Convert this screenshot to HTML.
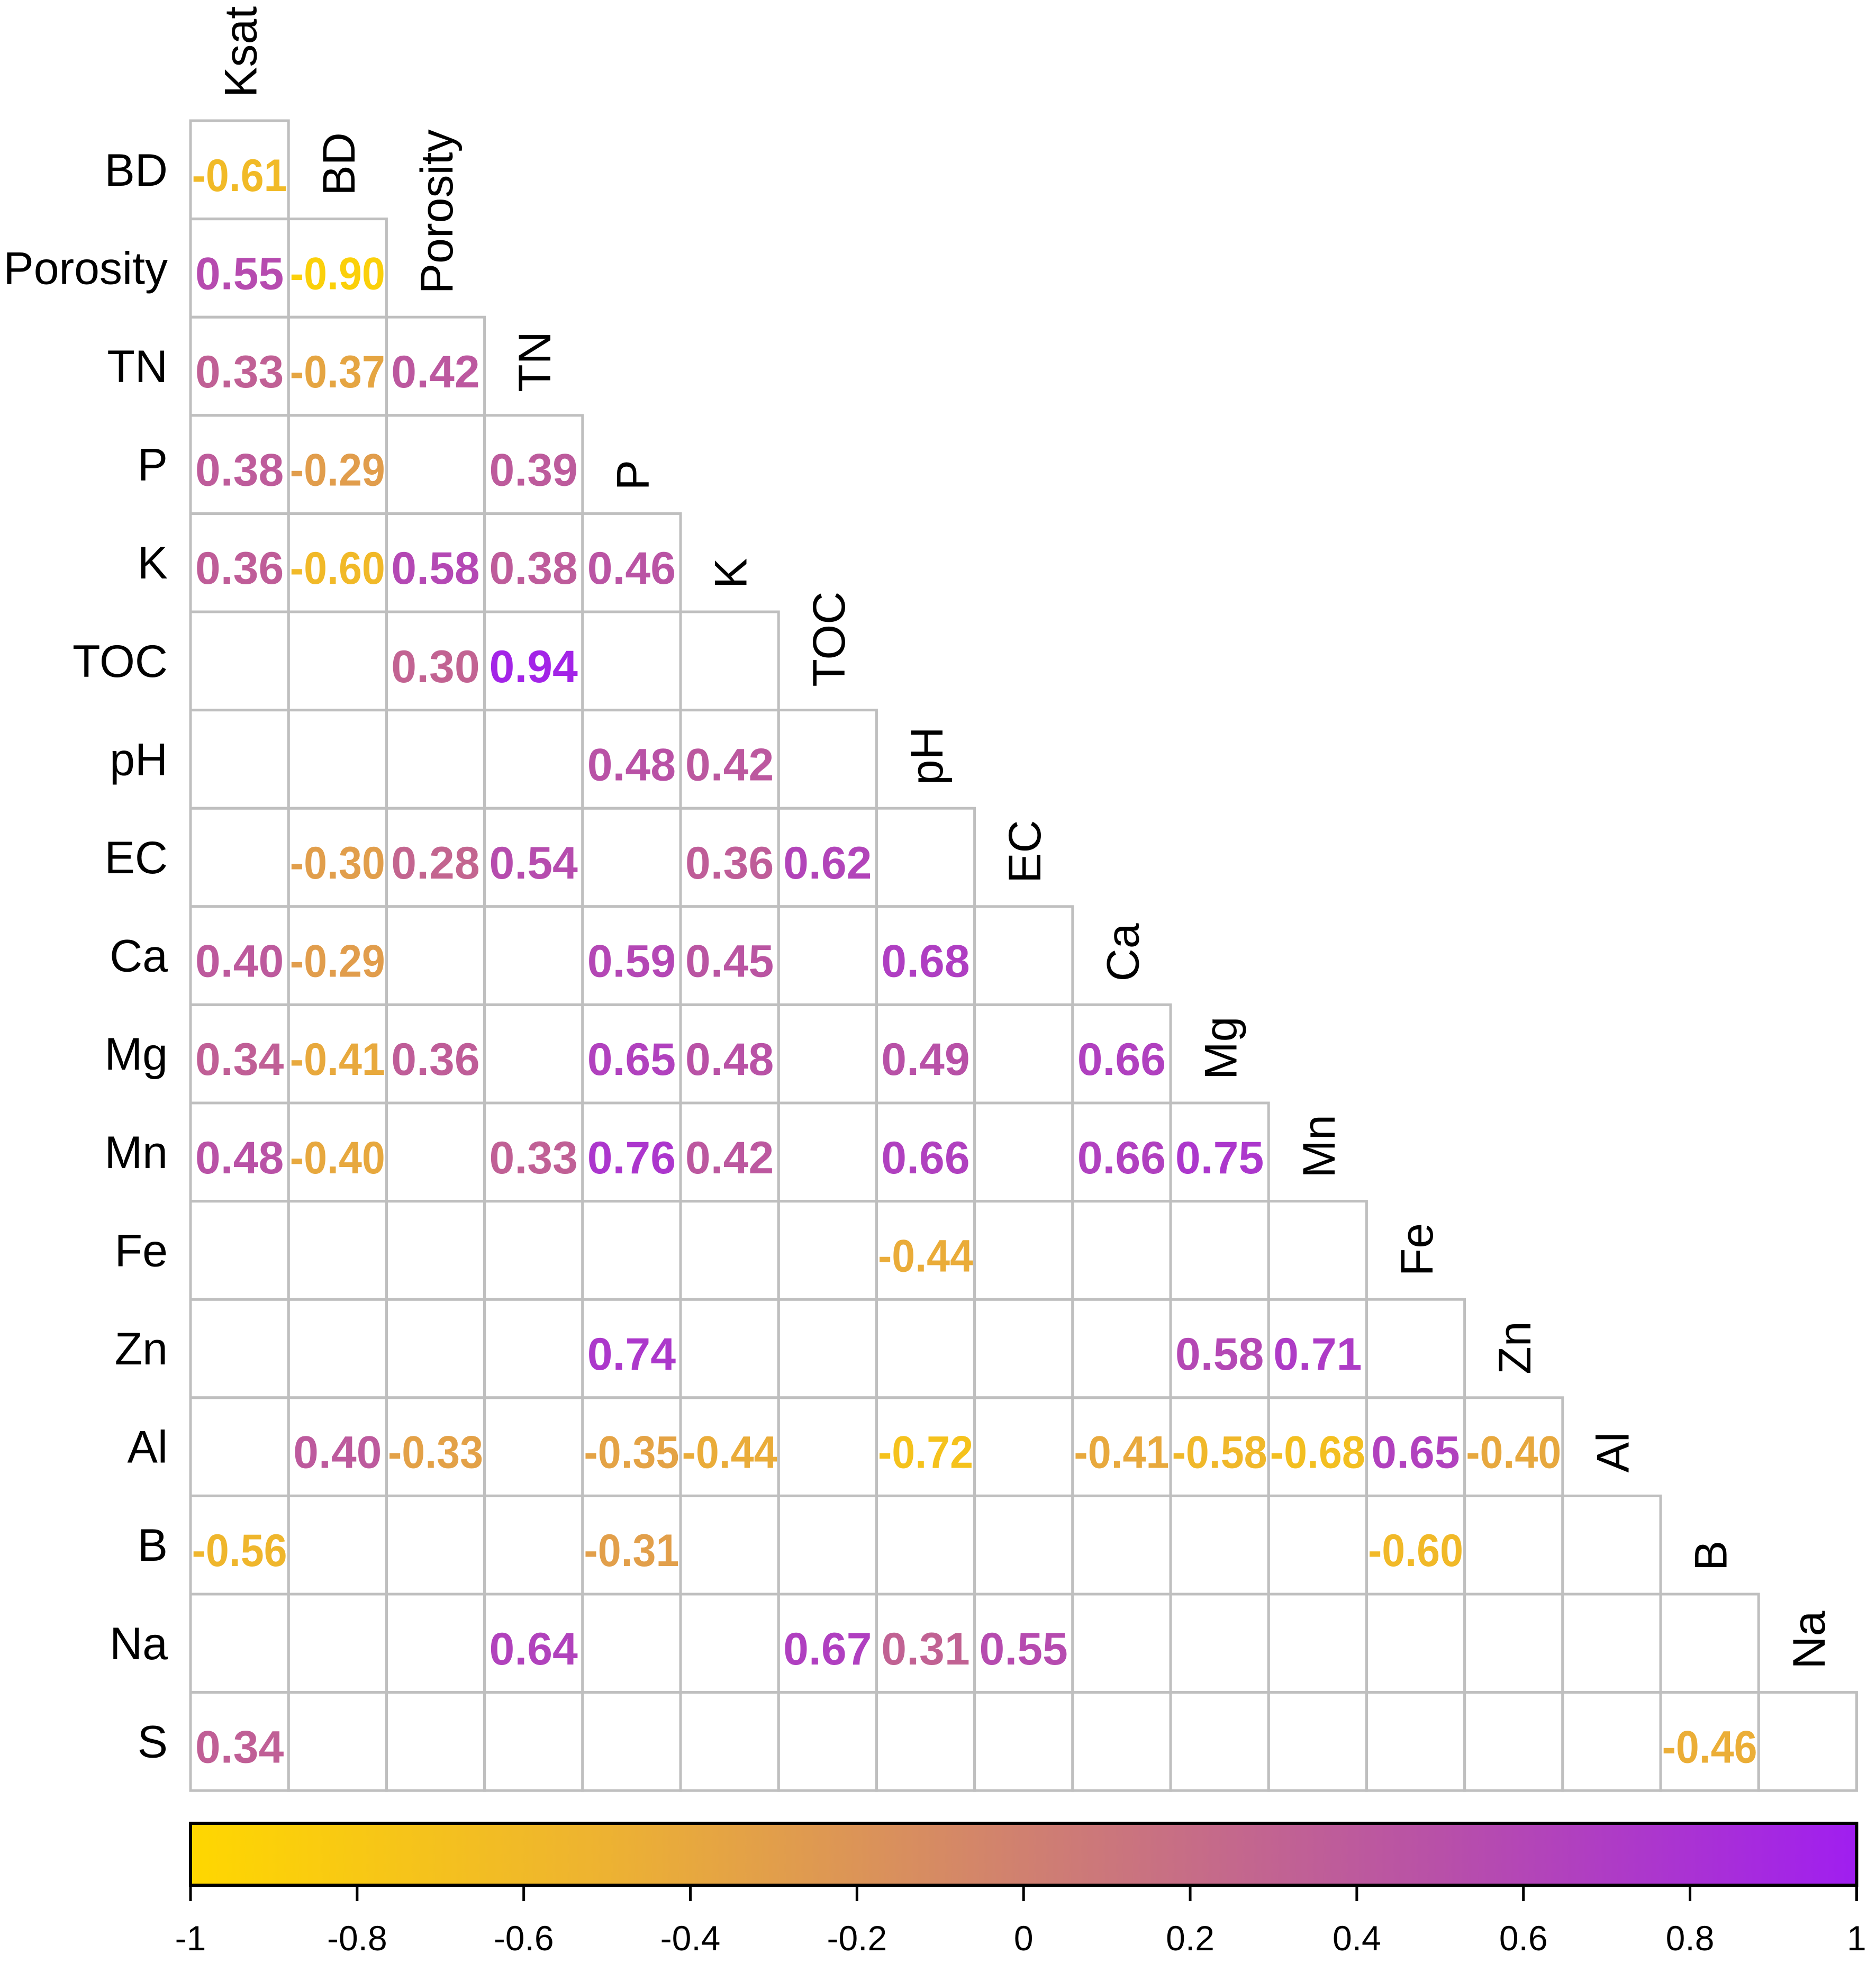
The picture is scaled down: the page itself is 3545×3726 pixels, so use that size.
<!DOCTYPE html>
<html><head><meta charset="utf-8">
<style>
html,body{margin:0;padding:0;background:#fff;}
svg{display:block;}
text{font-family:"Liberation Sans",Arial,sans-serif;}
</style></head>
<body>
<svg id="chart" width="3545" height="3726" viewBox="0 0 3545 3726" xmlns="http://www.w3.org/2000/svg">
<defs>
<linearGradient id="cbg" x1="0" x2="1" y1="0" y2="0">
<stop offset="0" stop-color="#FFD700"/>
<stop offset="0.25" stop-color="#EDB232"/>
<stop offset="0.5" stop-color="#D08070"/>
<stop offset="0.75" stop-color="#B850A8"/>
<stop offset="1" stop-color="#A01EF0"/>
</linearGradient>
</defs>
<g id="grid"></g>
<g id="colorbar"></g>
</svg>
<script>
const rowVars = ["BD","Porosity","TN","P","K","TOC","pH","EC","Ca","Mg","Mn","Fe","Zn","Al","B","Na","S"];
const colVars = ["Ksat","BD","Porosity","TN","P","K","TOC","pH","EC","Ca","Mg","Mn","Fe","Zn","Al","B","Na"];
const N = null;
const r0 = [-0.61];
const r1 = [0.55,-0.90];
const r2 = [0.33,-0.37,0.42];
const r3 = [0.38,-0.29,N,0.39];
const r4 = [0.36,-0.60,0.58,0.38,0.46];
const r5 = [N,N,0.30,0.94,N,N];
const r6 = [N,N,N,N,0.48,0.42,N];
const r7 = [N,-0.30,0.28,0.54,N,0.36,0.62,N];
const r8 = [0.40,-0.29,N,N,0.59,0.45,N,0.68,N];
const r9 = [0.34,-0.41,0.36,N,0.65,0.48,N,0.49,N,0.66];
const r10 = [0.48,-0.40,N,0.33,0.76,0.42,N,0.66,N,0.66,0.75];
const r11 = [N,N,N,N,N,N,N,-0.44,N,N,N,N];
const r12 = [N,N,N,N,0.74,N,N,N,N,N,0.58,0.71,N];
const r13 = [N,0.40,-0.33,N,-0.35,-0.44,N,-0.72,N,-0.41,-0.58,-0.68,0.65,-0.40];
const r14 = [-0.56,N,N,N,-0.31,N,N,N,N,N,N,N,-0.60,N,N];
const r15 = [N,N,N,0.64,N,N,0.67,0.31,0.55,N,N,N,N,N,N,N];
const r16 = [0.34,N,N,N,N,N,N,N,N,N,N,N,N,N,N,-0.46,N];
const values = [r0,r1,r2,r3,r4,r5,r6,r7,r8,r9,r10,r11,r12,r13,r14,r15,r16];
const tickVals = [-1,-0.8,-0.6,-0.4,-0.2,0,0.2,0.4,0.6,0.8,1];
const tickLabels = ["-1","-0.8","-0.6","-0.4","-0.2","0","0.2","0.4","0.6","0.8","1"];

const NS="http://www.w3.org/2000/svg";
const X0=360, Y0=228, CW=185.2, CH=185.6;
const cx=j=>X0+j*CW, cy=i=>Y0+i*CH;
const stops=[[-1,[255,215,0]],[-0.5,[237,178,50]],[0,[208,128,112]],[0.5,[184,80,168]],[1,[160,30,240]]];
function color(v){
  for(let k=0;k<stops.length-1;k++){
    const [a,ca]=stops[k],[b,cb]=stops[k+1];
    if(v<=b){const t=(v-a)/(b-a);return `rgb(${ca.map((c,i)=>Math.round(c+(cb[i]-c)*t)).join(",")})`;}
  }
  return "rgb(160,30,240)";
}
function mk(tag,attrs,parent){const e=document.createElementNS(NS,tag);for(const k in attrs)e.setAttribute(k,attrs[k]);parent.appendChild(e);return e;}
const g=document.getElementById("grid");
rowVars.forEach((rv,i)=>{
  const lab=mk("text",{x:317,y:cy(i)+CH/2+30,"text-anchor":"end","font-size":86,fill:"#000"},g);
  lab.textContent=rv;
  
  
  for(let j=0;j<=i;j++){
    const c=mk("rect",{x:cx(j),y:cy(i),width:CW,height:CH,fill:"none",stroke:"#bfbfbf","stroke-width":5},g);
    
    
    const v=values[i][j];
    if(v!==null&&v!==undefined){
      const t=mk("text",{x:cx(j)+CW/2,y:cy(i)+CH/2+40,"text-anchor":"middle","font-size":86,"font-weight":"bold",fill:color(v),textLength:180,lengthAdjust:"spacingAndGlyphs"},g);
      if(v>=0) t.removeAttribute("textLength");
      t.textContent=v.toFixed(2);
      
      
    }
  }
});
colVars.forEach((cv,j)=>{
  const bx=cx(j)+CW/2+32, by=cy(j)-44;
  const t=mk("text",{x:0,y:0,transform:`translate(${bx},${by}) rotate(-90)`,"font-size":86,fill:"#000"},g);
  t.textContent=cv;
  
  
});
const cb=document.getElementById("colorbar");
const CBX0=360, CBX1=X0+17*CW, CBY=3445, CBH=117;
const cbx=v=>CBX0+(v+1)/2*(CBX1-CBX0);
const bar=mk("rect",{x:CBX0,y:CBY,width:CBX1-CBX0,height:CBH,fill:"url(#cbg)",stroke:"#000","stroke-width":6},cb);


tickVals.forEach((v,k)=>{
  const l=mk("line",{x1:cbx(v),x2:cbx(v),y1:CBY+CBH,y2:3592,stroke:"#000","stroke-width":5},cb);
  
  
  const t=mk("text",{x:cbx(v),y:3685,"text-anchor":"middle","font-size":66,fill:"#000"},cb);
  t.textContent=tickLabels[k];
  
  
});
</script>
</body></html>
